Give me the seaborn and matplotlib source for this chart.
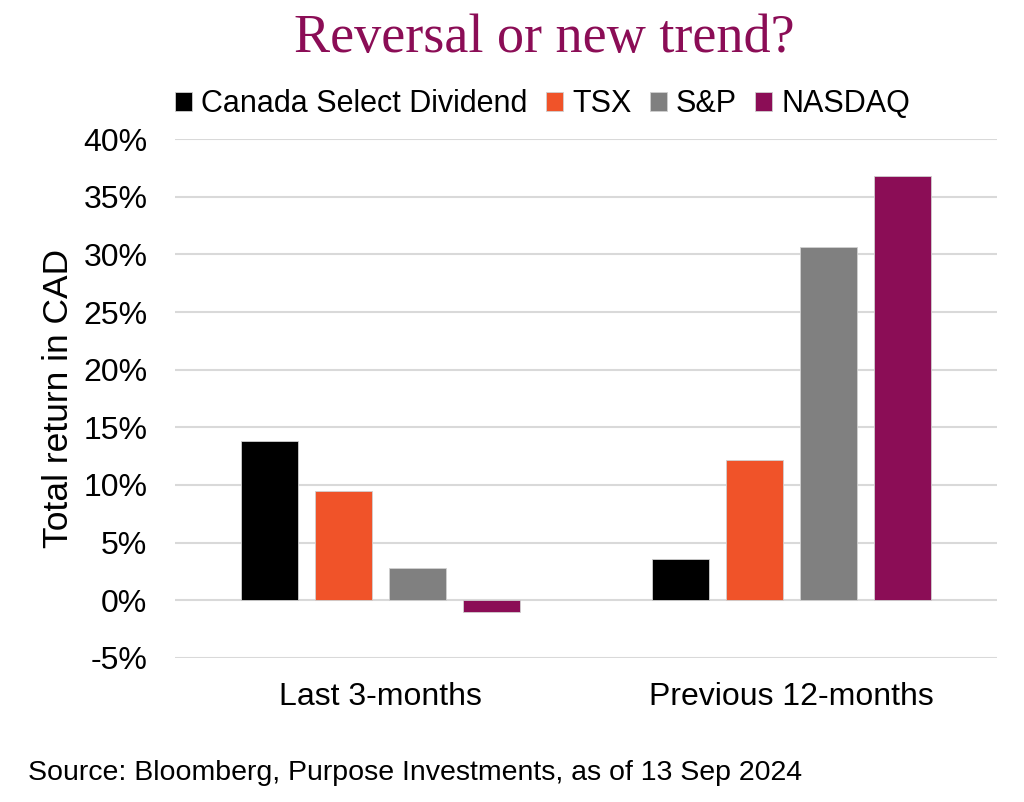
import pandas as pd
import matplotlib.pyplot as plt
import seaborn as sns
from matplotlib.ticker import FuncFormatter, MultipleLocator

periods = ["Last 3-months", "Previous 12-months"]
series = ["Canada Select Dividend", "TSX", "S&P", "NASDAQ"]
canada_select = [13.8, 3.6]
tsx = [9.5, 12.2]
sp500 = [2.8, 30.6]
nasdaq = [-1.0, 36.8]
colors = ["#000000", "#F05329", "#808080", "#8B0D56"]

rows = []
for name, vals in zip(series, [canada_select, tsx, sp500, nasdaq]):
    for p, v in zip(periods, vals):
        rows.append({"period": p, "series": name, "ret": v})
df = pd.DataFrame(rows)

sns.set_theme(style="white")
plt.rcParams["font.family"] = ["Liberation Sans", "DejaVu Sans"]
plt.rcParams["text.color"] = "black"
plt.rcParams["axes.labelcolor"] = "black"

fig = plt.figure(figsize=(10.24, 8.02), dpi=100)
ax = fig.add_axes([0.171, 0.1796, 0.803, 0.647])

sns.barplot(data=df, x="period", y="ret", hue="series", hue_order=series,
            palette=colors, saturation=1, width=0.72, gap=0.23, ax=ax,
            edgecolor="#d0d0d0", linewidth=0.6, legend=True)

ax.set_ylim(-5, 40)
ax.yaxis.set_major_locator(MultipleLocator(5))
ax.yaxis.set_major_formatter(FuncFormatter(lambda v, _: f"{v:.0f}%"))
ax.grid(axis="y", color="#d9d9d9", linewidth=1.5)
ax.set_axisbelow(True)
for s in ax.spines.values():
    s.set_visible(False)
ax.tick_params(axis="both", labelsize=23, length=0, colors="black")
ax.tick_params(axis="x", pad=17)
ax.tick_params(axis="y", pad=20)
ax.set_xlabel("")
ax.set_ylabel("Total return in CAD", fontsize=25.5, labelpad=6)

handles, labels = ax.get_legend_handles_labels()
ax.legend(handles, labels, loc="center", bbox_to_anchor=(0.447, 1.067),
          ncol=4, frameon=False, fontsize=22, handlelength=0.55,
          handleheight=0.55, handletextpad=0.3, columnspacing=0.6,
          borderaxespad=0)

fig.text(0.532, 0.952, "Reversal or new trend?", ha="center", va="center",
         fontsize=39, color="#8B0D56", family=["Liberation Serif", "DejaVu Serif"])
fig.text(0.027, 0.036, "Source: Bloomberg, Purpose Investments, as of 13 Sep 2024",
         ha="left", va="center", fontsize=20.5)

fig.savefig("out.png", dpi=100)
